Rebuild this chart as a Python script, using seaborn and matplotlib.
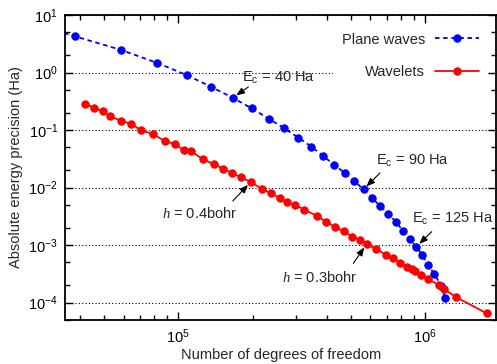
import matplotlib
matplotlib.use("Agg")
import matplotlib.pyplot as plt
import matplotlib.ticker as mticker
import seaborn as sns

# ---- data ----
pw_dof = [3.2e4, 3.81e4, 5.86e4, 8.2e4, 1.08e5, 1.357e5, 1.662e5, 1.984e5, 2.325e5,
          2.683e5, 3.062e5, 3.457e5, 3.848e5, 4.27e5, 4.726e5, 5.164e5, 5.633e5,
          6.1e5, 6.57e5, 7.11e5, 7.63e5, 8.14e5, 8.67e5, 9.22e5, 9.77e5, 1.028e6,
          1.091e6, 1.161e6, 1.209e6]
pw_err = [5.3, 4.26, 2.47, 1.47, 0.905, 0.565, 0.364, 0.238, 0.158, 0.108, 0.0741,
          0.0518, 0.036, 0.0252, 0.018, 0.01312, 0.0093, 0.00663, 0.0048, 0.00353,
          0.00251, 0.00179, 0.001285, 0.000935, 0.000666, 0.000452, 0.000316,
          0.000198, 0.00012]

wl_dof = [4.19e4, 4.56e4, 4.94e4, 5.28e4, 5.85e4, 6.43e4, 7.035e4, 7.88e4, 8.84e4,
          9.67e4, 1.055e5, 1.129e5, 1.256e5, 1.392e5, 1.521e5, 1.647e5, 1.79e5,
          1.968e5, 2.188e5, 2.38e5, 2.572e5, 2.746e5, 2.978e5, 3.242e5, 3.639e5,
          3.977e5, 4.33e5, 4.688e5, 5.074e5, 5.43e5, 5.802e5, 6.347e5, 6.935e5,
          7.42e5, 7.92e5, 8.43e5, 8.84e5, 9.13e5, 9.63e5, 1.025e6, 1.145e6,
          1.197e6, 1.336e6, 1.779e6]
wl_err = [0.2845, 0.2455, 0.211, 0.1728, 0.1461, 0.1281, 0.1, 0.0849, 0.0642,
          0.0569, 0.04446, 0.04275, 0.03108, 0.02564, 0.02127, 0.01798, 0.01514,
          0.01256, 0.00938, 0.00794, 0.00663, 0.00565, 0.004995, 0.00414, 0.00323,
          0.002544, 0.00206, 0.001728, 0.001409, 0.001226, 0.001045, 0.000849,
          0.000687, 0.000586, 0.000499, 0.00042, 0.000378, 0.000349, 0.000303,
          0.000256, 0.000202, 0.0001714, 0.000125, 6.53e-5]

series_labels = ["Plane waves", "Wavelets"]
pw_notes = [(6, "E$_{\\rm c}$ = 40 Ha"), (16, "E$_{\\rm c}$ = 90 Ha"), (23, "E$_{\\rm c}$ = 125 Ha")]
wl_notes = [(17, "$h$ = 0.4bohr"), (30, "$h$ = 0.3bohr")]

sns.set_style("ticks")
plt.rcParams["font.family"] = ["Liberation Sans", "DejaVu Sans"]
plt.rcParams["mathtext.fontset"] = "custom"
plt.rcParams["mathtext.rm"] = "Liberation Sans"
plt.rcParams["mathtext.it"] = "Liberation Serif:italic"
plt.rcParams["mathtext.bf"] = "Liberation Sans:bold"

fig = plt.figure(figsize=(4.97, 3.64), dpi=100)
ax = fig.add_axes([65/497, 1-320/364, (496.5-65)/497, (320-15)/364])

sns.lineplot(x=pw_dof, y=pw_err, ax=ax, color="#0000ff", marker="o", markersize=5.3,
             markeredgecolor="#0000ff", linestyle=(0, (2.5, 2)), lw=1.3,
             estimator=None, label=series_labels[0])
sns.lineplot(x=wl_dof, y=wl_err, ax=ax, color="#ff0000", marker="o", markersize=5.3,
             markeredgecolor="#ff0000", linestyle="-", lw=1.3,
             estimator=None, label=series_labels[1])

ax.set_xscale("log")
ax.set_yscale("log")
ax.set_xlim(3.47e4, 1.95e6)
ax.set_ylim(5e-5, 10)

ax.yaxis.set_major_locator(mticker.LogLocator(base=10, numticks=20))
ax.yaxis.set_minor_locator(mticker.LogLocator(base=10, subs=[2, 5], numticks=20))
ax.yaxis.set_minor_formatter(mticker.NullFormatter())
ax.xaxis.set_major_locator(mticker.LogLocator(base=10, numticks=20))
ax.xaxis.set_minor_locator(mticker.LogLocator(base=10, subs=range(2, 10), numticks=20))
ax.xaxis.set_minor_formatter(mticker.NullFormatter())

ax.tick_params(which="both", direction="in", top=True, right=True, colors="black",
               labelsize=10.5, width=1.0)
ax.tick_params(which="major", length=6, pad=5)
ax.tick_params(which="minor", length=3.5)
for s in ax.spines.values():
    s.set_linewidth(1.3)
    s.set_color("black")

ax.yaxis.grid(True, which="major", linestyle=(0, (1, 2)), color="black", lw=0.8)
ax.set_axisbelow(True)

ax.set_xlabel("Number of degrees of freedom", fontsize=10.5, labelpad=2)
ax.set_ylabel("Absolute energy precision (Ha)", fontsize=10.5, labelpad=4)

arrow = dict(arrowstyle="-|>,head_length=0.5,head_width=0.2", color="black", lw=0.8,
             shrinkA=0, shrinkB=3)
pw_off = [((11.2, 7.8), (32.6, 14.3)), ((11.9, 11.9), (35.6, 20.3)), ((11.1, 10.9), (26.4, 20.0))]
for (i, txt), (aoff, toff) in zip(pw_notes, pw_off):
    pt = (pw_dof[i], pw_err[i])
    ax.annotate("", xy=pt, xytext=aoff, textcoords="offset points", arrowprops=arrow)
    ax.annotate(txt, xy=pt, xytext=toff, textcoords="offset points", ha="center",
                va="center", fontsize=10.5)
wl_off = [((-13.0, -13.7), (-36.6, -22.5)), ((-9.6, -13.9), (-33.6, -23.8))]
for (i, txt), (aoff, toff) in zip(wl_notes, wl_off):
    pt = (wl_dof[i], wl_err[i])
    ax.annotate("", xy=pt, xytext=aoff, textcoords="offset points", arrowprops=arrow)
    ax.annotate(txt, xy=pt, xytext=toff, textcoords="offset points", ha="center",
                va="center", fontsize=10.5)

leg = ax.legend(loc="upper right", markerfirst=False, frameon=True, framealpha=1,
                facecolor="white", edgecolor="none", fancybox=False, handlelength=3.0,
                labelspacing=1.3, fontsize=10.5, borderpad=0.6, borderaxespad=0.6,
                handletextpad=0.7)
leg.get_frame().set_linewidth(0)

fig.savefig("out.png", dpi=100)
